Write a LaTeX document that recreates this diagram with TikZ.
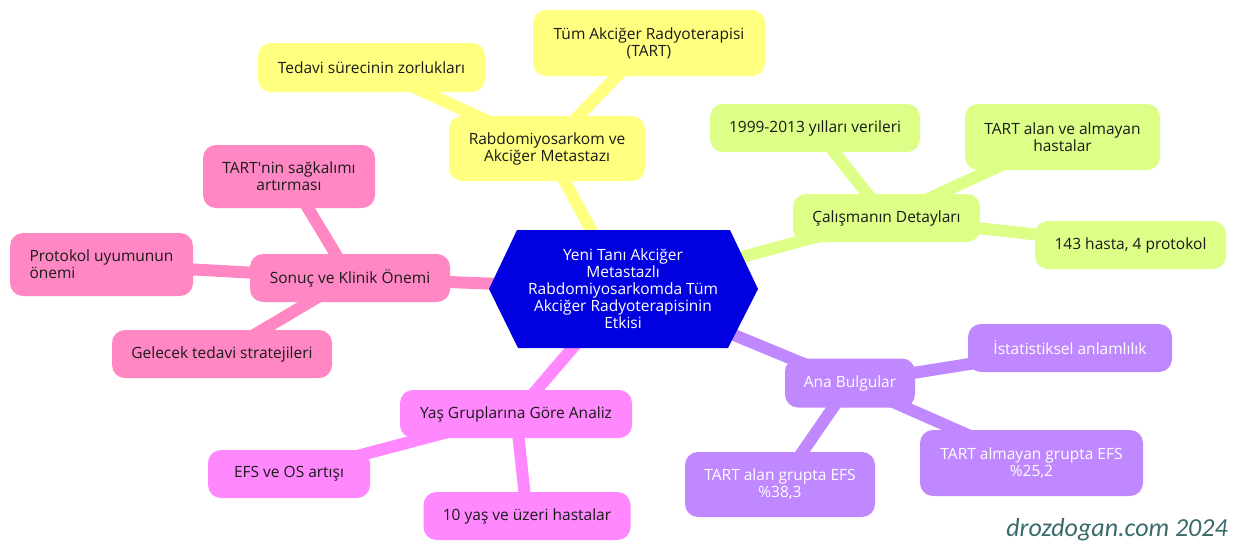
\documentclass[tikz,border=0pt]{standalone}
\usepackage{fontspec}
\setmainfont{Open Sans}
\newfontfamily\wmfont{Carlito}
\usetikzlibrary{backgrounds}
\definecolor{cyel}{HTML}{FFFF80}
\definecolor{cgrn}{HTML}{DDFF88}
\definecolor{cpnk}{HTML}{FF88C4}
\definecolor{cmag}{HTML}{FF88FF}
\definecolor{cpur}{HTML}{C088FF}
\definecolor{cblu}{HTML}{0000E0}
\definecolor{cwm}{HTML}{3A6B6B}
\definecolor{ctxt}{HTML}{1A1A1A}
\tikzset{
  box/.style={rounded corners=13pt, inner sep=0pt, align=center,
    font=\fontsize{15.5}{17}\selectfont},
  yel/.style={box, fill=cyel, text=ctxt},
  grn/.style={box, fill=cgrn, text=ctxt},
  pnk/.style={box, fill=cpnk, text=ctxt},
  mag/.style={box, fill=cmag, text=ctxt},
  pur/.style={box, fill=cpur, text=white},
  sz/.style 2 args={minimum width=#1pt, minimum height=#2pt},
  link/.style={line width=12pt},
}
\begin{document}
\begin{tikzpicture}[x=1pt,y=-1pt]
\useasboundingbox (0,0) rectangle (1236,550);
% central hexagon
\fill[cblu] (489,289) -- (517,230) -- (730,230) -- (758,289) -- (728,348) -- (518,348) -- cycle;
\node[box, text=white] (c) at (623,289) {Yeni Tanı Akciğer\\Metastazlı\\Rabdomiyosarkomda Tüm\\Akciğer Radyoterapisinin\\Etkisi};
% yellow
\node[yel, sz={227}{49}] (ted) at (371.5,67.5) {Tedavi sürecinin zorlukları};
\node[yel, sz={232}{66}] (tart) at (649,43) {Tüm Akciğer Radyoterapisi\\(TART)};
\node[yel, sz={196}{65}] (rab) at (547,148.5) {Rabdomiyosarkom ve\\Akciğer Metastazı};
% green
\node[grn, sz={210}{48}] (y99) at (815,128) {1999-2013 yılları verileri};
\node[grn, sz={195}{66}] (tah) at (1062.5,137) {TART alan ve almayan\\hastalar};
\node[grn, sz={187}{48}] (cal) at (886.5,218) {Çalışmanın Detayları};
\node[grn, sz={191}{48}] (h143) at (1130.5,245) {143 hasta, 4 protokol};
% pink
\node[pnk, sz={172}{63}] (tnin) at (289,176.5) {TART\textquotesingle nin sağkalımı\\artırması};
\node[pnk, sz={183}{63}, align=left] (prot) at (101.5,264.5) {Protokol uyumunun\\önemi};
\node[pnk, sz={200}{48}] (son) at (350,278) {Sonuç ve Klinik Önemi};
\node[pnk, sz={220}{48}] (gel) at (222,354) {Gelecek tedavi stratejileri};
% magenta
\node[mag, sz={232}{48}] (yas) at (516,414) {Yaş Gruplarına Göre Analiz};
\node[mag, sz={162}{48}] (efs) at (289,474) {EFS ve OS artışı};
\node[mag, sz={207}{48}] (y10) at (527,516) {10 yaş ve üzeri hastalar};
% purple
\node[pur, sz={204}{48}] (ist) at (1070,348) {İstatistiksel anlamlılık};
\node[pur, sz={130}{49}] (ana) at (850,383) {Ana Bulgular};
\node[pur, sz={223}{66}] (alm) at (1031.5,463) {TART almayan grupta EFS\\\%25,2};
\node[pur, sz={190}{65}] (aln) at (780,484.5) {TART alan grupta EFS\\\%38,3};
% watermark
\node[anchor=base east, inner sep=0pt, text=cwm, font=\wmfont\itshape\fontsize{26}{30}\selectfont] (wm) at (1228,536) {drozdogan.com 2024};
\begin{pgfonlayer}{background}
\fill[white] (0,0) rectangle (1236,550);
\draw[link, cyel] (c.center) -- (rab.center);
\draw[link, cyel] (rab.center) -- (ted.center);
\draw[link, cyel] (rab.center) -- (tart.center);
\draw[link, cgrn] (c.center) -- (cal.center);
\draw[link, cgrn] (cal.center) -- (y99.center);
\draw[link, cgrn] (cal.center) -- (tah.center);
\draw[link, cgrn] (cal.center) -- (h143.center);
\draw[link, cpnk] (c.center) -- (son.center);
\draw[link, cpnk] (son.center) -- (tnin.center);
\draw[link, cpnk] (son.center) -- (prot.center);
\draw[link, cpnk] (son.center) -- (gel.center);
\draw[link, cmag] (c.center) -- (yas.center);
\draw[link, cmag] (yas.center) -- (efs.center);
\draw[link, cmag] (yas.center) -- (y10.center);
\draw[link, cpur] (c.center) -- (ana.center);
\draw[link, cpur] (ana.center) -- (ist.center);
\draw[link, cpur] (ana.center) -- (alm.center);
\draw[link, cpur] (ana.center) -- (aln.center);
\end{pgfonlayer}
\end{tikzpicture}
\end{document}
